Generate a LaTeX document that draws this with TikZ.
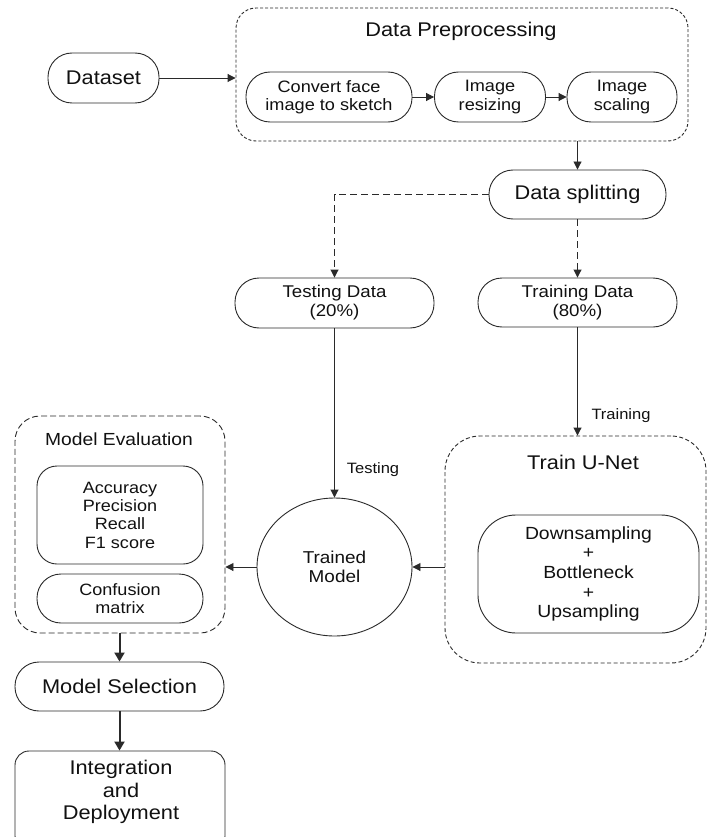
\documentclass[tikz,border=0pt]{standalone}
\usepackage{fontspec}
\setmainfont{Liberation Sans}[FakeStretch=1.1]
\usetikzlibrary{arrows.meta,shapes.geometric,calc}
\definecolor{ln}{HTML}{2A2A2A}
\definecolor{tx}{HTML}{111111}
\newcommand\fz[1]{\fontsize{#1}{\fpeval{#1*1.12}}\selectfont}
\tikzset{
  box/.style={draw=ln, line width=0.9pt, rectangle, inner sep=0pt, align=center, text=tx},
  stad/.style={box, rounded corners=24pt},
  arr/.style={draw=ln, line width=0.9pt, -{Triangle[length=8pt,width=8pt]}},
  thickarr/.style={draw=ln, line width=2pt, -{Triangle[length=9pt,width=10pt]}},
  dsharr/.style={arr, dash pattern=on 7pt off 4pt},
  lbl/.style={text=tx, inner sep=0pt, font=\fz{15}},
}
\begin{document}
\begin{tikzpicture}[x=1pt,y=-1pt]
\useasboundingbox[fill=white] (0,0) rectangle (710,837);

% Data preprocessing group
\node[box, rounded corners=20pt, dash pattern=on 3pt off 2pt, minimum width=452pt, minimum height=133pt] (dp) at (462,74.5) {};
\node[lbl, font=\fz{19.8}] (dptitle) at (461,31) {Data Preprocessing};
\node[stad, minimum width=166pt, minimum height=50pt, font=\fz{16.5}] (conv) at (329,97) {Convert face\\image to sketch};
\node[stad, minimum width=111pt, minimum height=50pt, font=\fz{16.5}] (resize) at (490,97) {Image\\resizing};
\node[stad, minimum width=110pt, minimum height=50pt, font=\fz{16.5}] (scale) at (622,97) {Image\\scaling};

\node[stad, minimum width=111pt, minimum height=50pt, font=\fz{19.8}] (dataset) at (103.5,78) {Dataset};

\node[stad, minimum width=177pt, minimum height=49pt, font=\fz{19.8}] (split) at (577.5,194.5) {Data splitting};
\node[stad, minimum width=199pt, minimum height=50pt, font=\fz{17}] (testing) at (334.5,303) {Testing Data\\(20\%)};
\node[stad, minimum width=199pt, minimum height=49pt, font=\fz{17}] (training) at (577.5,302.5) {Training Data\\(80\%)};

% Train U-Net group
\node[box, rounded corners=35pt, dash pattern=on 4pt off 2.5pt, minimum width=261pt, minimum height=227pt] (unet) at (575.5,549.5) {};
\node[lbl, font=\fz{19.8}] (unettitle) at (583,462) {Train U-Net};
\node[box, rounded corners=38pt, minimum width=221pt, minimum height=118pt, font=\fz{17.6}] (unetin) at (588.5,574) {Downsampling\\+\\Bottleneck\\+\\Upsampling};

% Trained model
\node[draw=ln, line width=0.9pt, ellipse, minimum width=155pt, minimum height=138pt, inner sep=0pt, align=center, text=tx, font=\fz{17.2}] (model) at (334.5,567) {Trained\\Model};

% Model evaluation group
\node[box, rounded corners=25pt, dash pattern=on 6pt off 3pt, minimum width=210pt, minimum height=217pt] (eval) at (120,524.5) {};
\node[lbl, font=\fz{17.5}] (evaltitle) at (119,439) {Model Evaluation};
\node[box, rounded corners=20pt, minimum width=166pt, minimum height=98pt, font=\fz{16.4}] (metrics) at (120,515) {Accuracy\\Precision\\Recall\\F1 score};
\node[stad, minimum width=166pt, minimum height=49pt, font=\fz{16.4}] (conf) at (120,598.5) {Confusion\\matrix};

\node[stad, minimum width=209pt, minimum height=49pt, font=\fz{19.8}] (sel) at (119.5,686.5) {Model Selection};
\node[box, rounded corners=14pt, minimum width=210pt, minimum height=99pt] (integ) at (120,800.5) {};
\node[lbl, font=\fz{19.8}, align=center] (integtext) at (121,792) {Integration\\and\\Deployment};

% connectors
\draw[arr] (dataset.east) -- (dataset.east -| dp.west);
\draw[arr] (conv.east) -- (resize.west);
\draw[arr] (resize.east) -- (scale.west);
\draw[arr] (split.north |- dp.south) -- (split.north);
\draw[dsharr] (split.west) -| (testing.north);
\draw[dsharr] (split.south) -- (training.north);
\draw[arr] (training.south) -- (training.south |- unet.north);
\node[lbl] (trainlbl) at (621,416) {Training};
\draw[arr] (testing.south) -- (model.north);
\node[lbl] (testlbl) at (373,470) {Testing};
\draw[arr] (model.east -| unet.west) -- (model.east);
\draw[arr] (model.west) -- (model.west -| eval.east);
\draw[thickarr] (sel.north |- eval.south) -- (sel.north);
\draw[thickarr] (sel.south) -- (sel.south |- integ.north);
\end{tikzpicture}
\end{document}
